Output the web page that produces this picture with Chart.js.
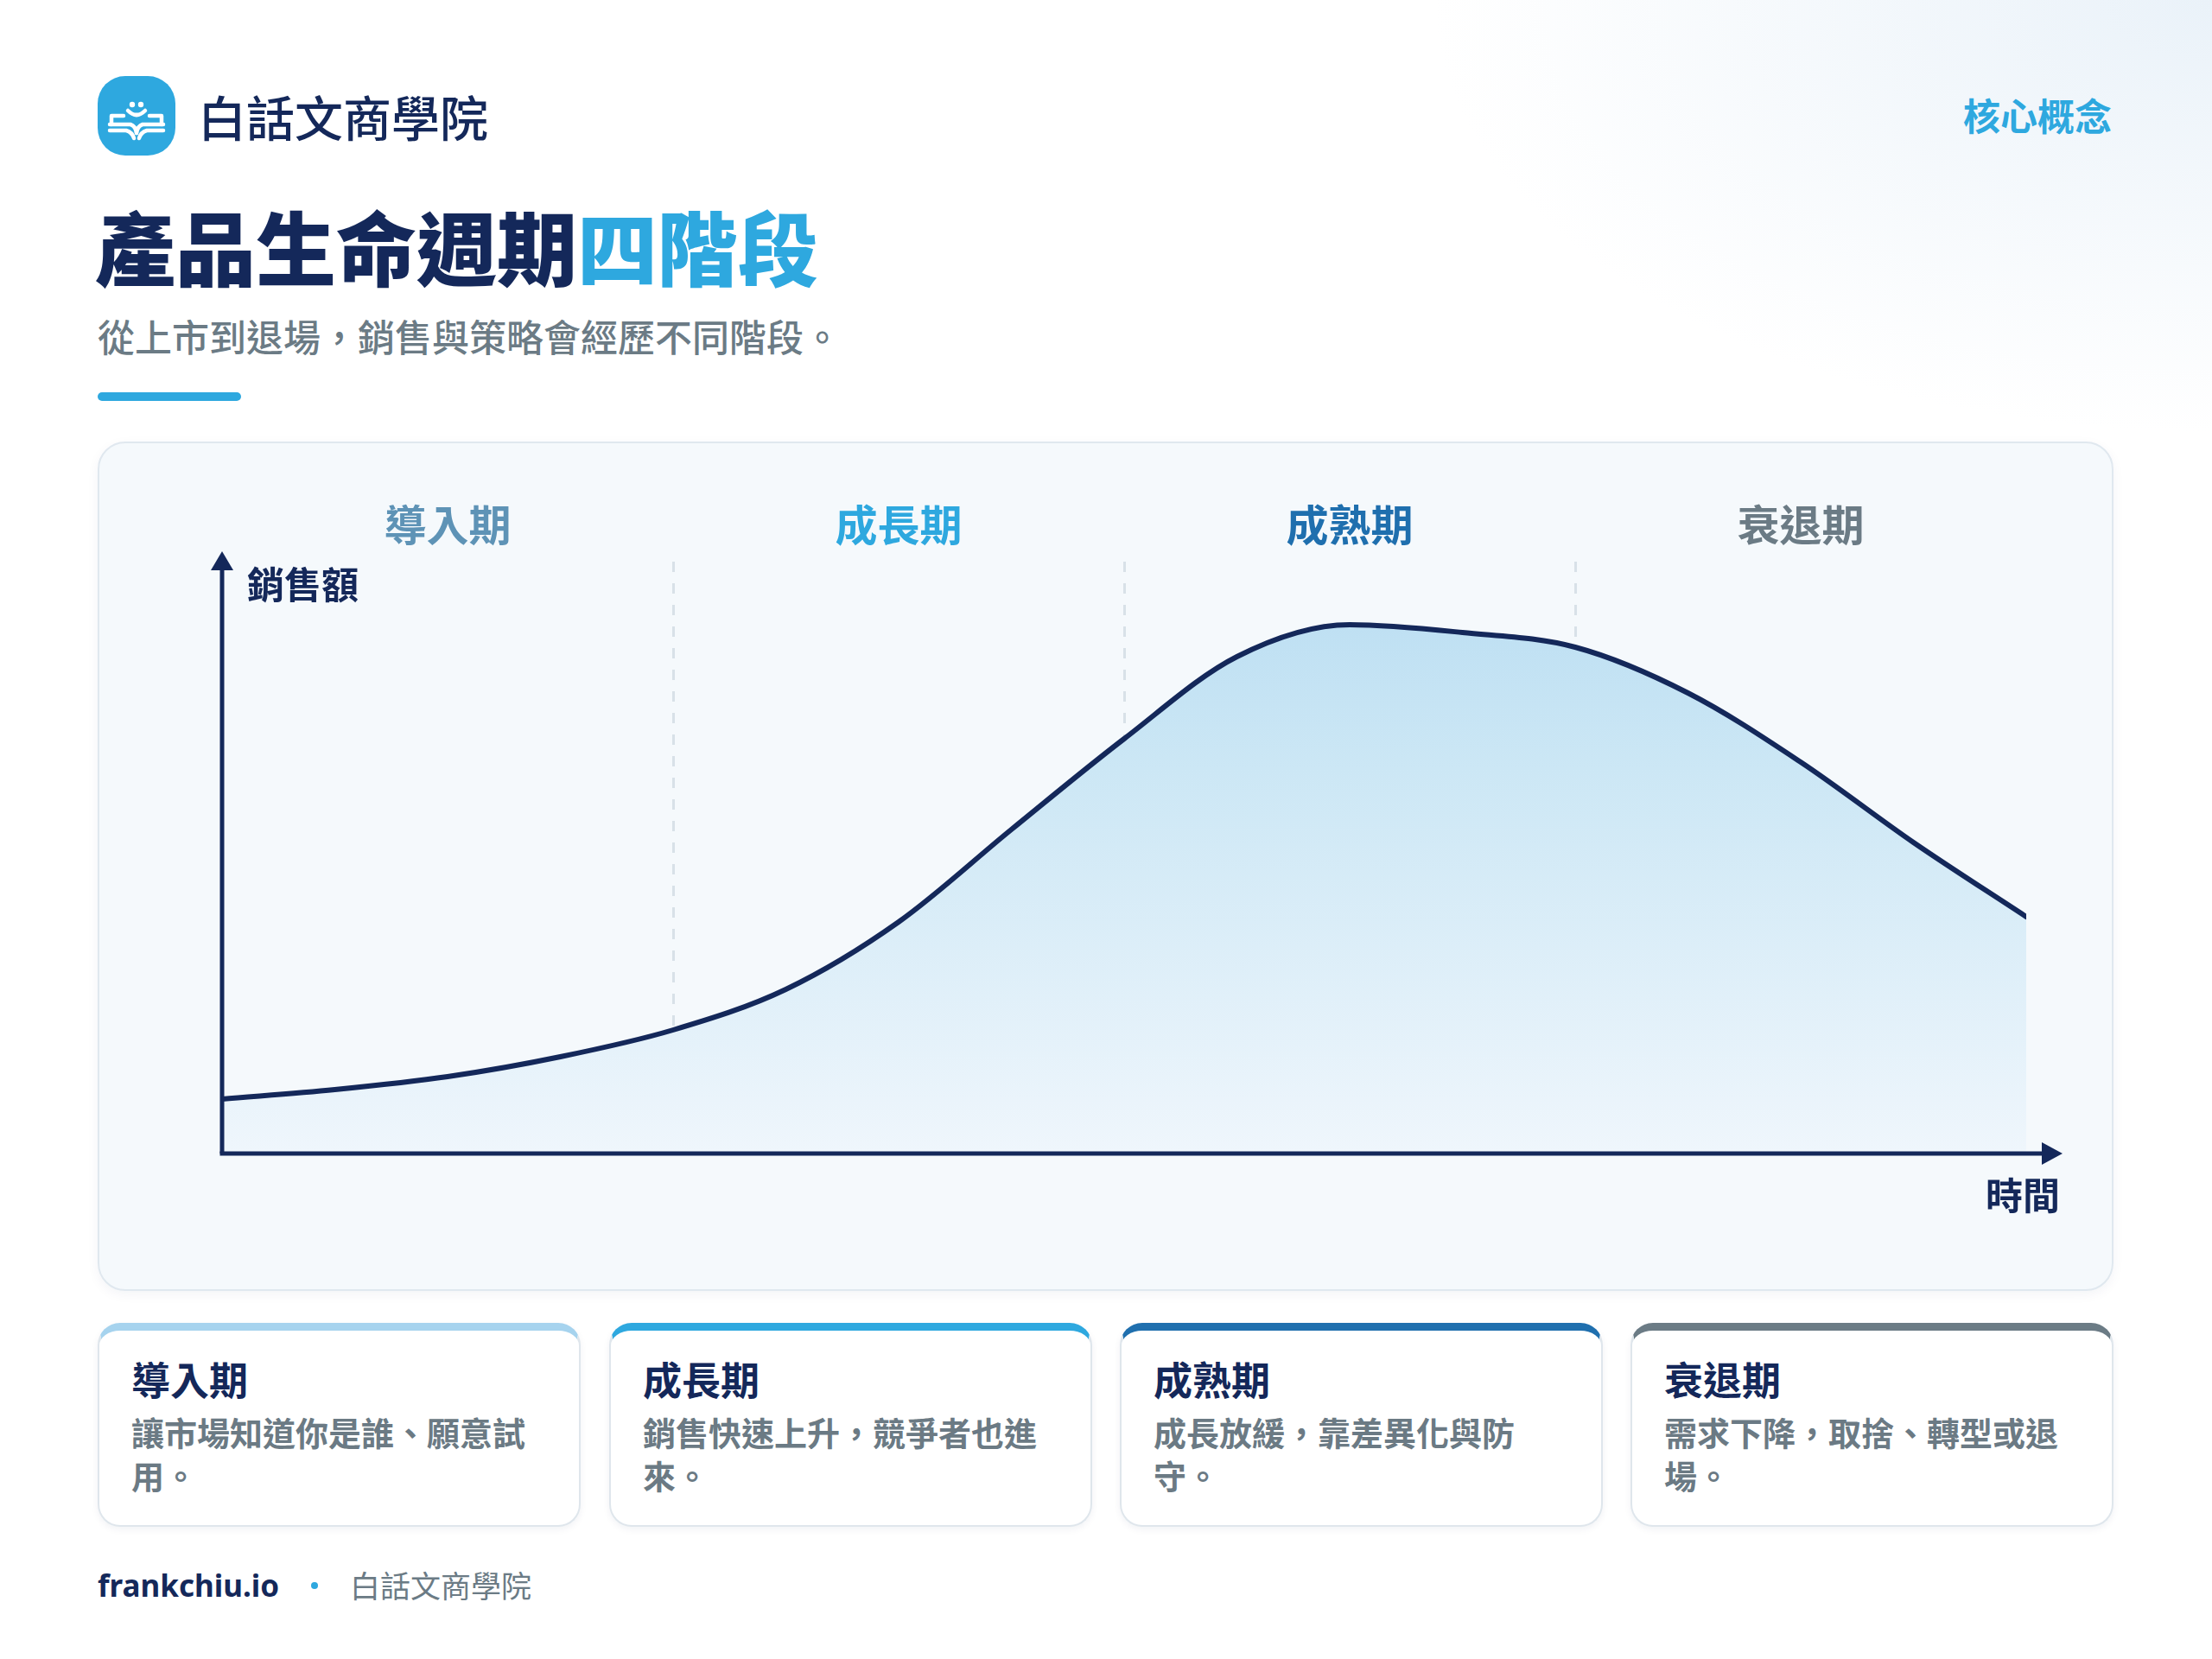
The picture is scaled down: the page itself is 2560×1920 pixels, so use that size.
<!DOCTYPE html>
<html lang="zh-Hant">
<head>
<meta charset="utf-8">
<title>產品生命週期四階段</title>
<script src="https://cdn.jsdelivr.net/npm/chart.js@4.4.1/dist/chart.umd.min.js"></script>
<style>
  html, body { margin: 0; padding: 0; }
  body {
    width: 2560px; height: 1920px; position: relative; overflow: hidden;
    font-family: "Noto Sans CJK TC", "Noto Sans CJK SC", "Noto Sans", sans-serif;
    background: radial-gradient(ellipse 900px 500px at 2560px 0px, #eaf2f9 0%, rgba(255,255,255,0) 100%), #ffffff;
    color: #14285a;
  }
  .abs { position: absolute; white-space: nowrap; }
  .logo {
    left: 113px; top: 88px; width: 90px; height: 92px;
    background: #2ea8df; border-radius: 32px;
  }
  .brand { left: 229px; top: 103px; font-size: 56px; line-height: 62px; font-weight: 500; color: #14285a; }
  .tag { right: 116px; top: 108px; font-size: 43px; line-height: 48px; font-weight: 700; color: #2ea8df; }
  .title { left: 110px; top: 232px; font-size: 93px; line-height: 103px; font-weight: 900; color: #14285a; }
  .title span { color: #2ea8df; }
  .sub { left: 113px; top: 364px; font-size: 43px; line-height: 48px; font-weight: 500; color: #6b7b85; }
  .bar { left: 113px; top: 454px; width: 166px; height: 10px; border-radius: 5px; background: #2ea8df; }
  .panel {
    left: 113px; top: 511px; width: 2333px; height: 983px; box-sizing: border-box;
    background: #f5f9fc; border: 2px solid #e0e8ef; border-radius: 32px;
    box-shadow: 0 4px 14px rgba(20, 40, 90, 0.05);
  }
  .panel canvas { position: absolute; left: -2px; top: -2px; }
  .phase { font-size: 49px; line-height: 56px; font-weight: 700; transform: translateX(-50%); }
  .axis-label { font-size: 43px; line-height: 48px; font-weight: 700; color: #14285a; }
  .card {
    top: 1531px; width: 559px; height: 236px; box-sizing: border-box;
    background: #ffffff; border: 2px solid #dfe6ec; border-top-width: 9px; border-radius: 26px;
    box-shadow: 0 3px 8px rgba(20, 40, 90, 0.06);
    padding: 29px 0 0 37px; white-space: normal;
  }
  .card h3 { margin: 0; font-size: 45px; line-height: 54px; font-weight: 700; color: #14285a; }
  .card p { margin: 9px 0 0 0; width: 480px; font-size: 38px; line-height: 50px; font-weight: 700; color: #6b7a84; }
  .foot1 { left: 113px; top: 1813px; font-family: "Noto Sans", "Open Sans", sans-serif; font-size: 35px; line-height: 44px; font-weight: 700; color: #14285a; }
  .dot { left: 360px; top: 1831px; width: 8px; height: 8px; border-radius: 50%; background: #2ea8df; }
  .foot2 { left: 405px; top: 1814px; font-size: 35px; line-height: 40px; font-weight: 400; color: #6b7b85; }
</style>
</head>
<body>
<script>
// 階段名稱
const phases = ['導入期', '成長期', '成熟期', '衰退期'];
const phaseColors = ['#5e93b6', '#2ea8df', '#1f6fae', '#6b7b85'];
const cardTopColors = ['#a6d3ee', '#2ea8df', '#1f6fae', '#6b7b85'];
const phaseNotes = [
  '讓市場知道你是誰、願意試用。',
  '銷售快速上升，競爭者也進來。',
  '成長放緩，靠差異化與防守。',
  '需求下降，取捨、轉型或退場。'
];

// 曲線資料（x：階段位置，y：銷售額）
const timePoints = [0, 0.25, 0.5, 0.75, 1, 1.25, 1.5, 1.75, 2, 2.25, 2.5, 2.75, 3, 3.25, 3.5, 3.75, 4];
const salesValues = [63, 74, 89, 112, 143, 190, 268, 375, 480, 575, 612, 603, 586, 533, 453, 360, 274];
const phaseTicks = [0, 1, 2, 3, 4];
</script>

<div class="abs logo">
  <svg width="90" height="92" viewBox="0 0 90 92">
    <g fill="none" stroke="#ffffff" stroke-width="4.5" stroke-linecap="round" stroke-linejoin="round">
      <path d="M35 40 Q45 50 55 40"/>
      <path d="M16 56 L16 46 L30 46"/>
      <path d="M74 56 L74 46 L60 46"/>
      <path d="M14 56 L38 56 Q44 58 45 66"/>
      <path d="M76 56 L52 56 Q46 58 45 66"/>
      <path d="M14 63 L33 63 Q40 65 42 72"/>
      <path d="M76 63 L57 63 Q50 65 48 72"/>
    </g>
    <circle cx="40" cy="33" r="3.2" fill="#ffffff"/>
    <circle cx="50" cy="33" r="3.2" fill="#ffffff"/>
  </svg>
</div>
<div class="abs brand">白話文商學院</div>
<div class="abs tag">核心概念</div>
<div class="abs title">產品生命週期<span>四階段</span></div>
<div class="abs sub">從上市到退場，銷售與策略會經歷不同階段。</div>
<div class="abs bar"></div>

<div class="abs panel" id="panel">
  <canvas id="plc" width="2333" height="983"></canvas>
  <div class="abs axis-label" style="left:171px; top:137px;">銷售額</div>
  <div class="abs axis-label" style="right:60px; top:844px;">時間</div>
</div>

<div id="cards"></div>

<div class="abs foot1">frankchiu.io</div>
<div class="abs dot"></div>
<div class="abs foot2">白話文商學院</div>

<script>
const NAVY = '#14285a';

// 座標軸與箭頭
const axisArrows = {
  id: 'axisArrows',
  afterDatasetsDraw(chart) {
    const { ctx, chartArea: a } = chart;
    ctx.save();
    ctx.strokeStyle = NAVY;
    ctx.fillStyle = NAVY;
    ctx.lineWidth = 5;
    ctx.beginPath();
    ctx.moveTo(a.left, a.bottom);
    ctx.lineTo(a.left, a.top + 4);
    ctx.stroke();
    ctx.beginPath();
    ctx.moveTo(a.left - 13, a.top + 10);
    ctx.lineTo(a.left, a.top - 12);
    ctx.lineTo(a.left + 13, a.top + 10);
    ctx.closePath();
    ctx.fill();
    ctx.beginPath();
    ctx.moveTo(a.left - 2.5, a.bottom);
    ctx.lineTo(a.right + 24, a.bottom);
    ctx.stroke();
    ctx.beginPath();
    ctx.moveTo(a.right + 18, a.bottom - 13);
    ctx.lineTo(a.right + 42, a.bottom);
    ctx.lineTo(a.right + 18, a.bottom + 13);
    ctx.closePath();
    ctx.fill();
    ctx.restore();
  }
};

const chart = new Chart(document.getElementById('plc'), {
  type: 'line',
  data: {
    datasets: [{
      data: timePoints.map((t, i) => ({ x: t, y: salesValues[i] })),
      borderColor: NAVY,
      borderWidth: 6,
      borderCapStyle: 'round',
      borderJoinStyle: 'round',
      pointRadius: 0,
      cubicInterpolationMode: 'monotone',
      fill: 'origin',
      backgroundColor: (c) => {
        const a = c.chart.chartArea;
        if (!a) return 'rgba(190,225,243,0.6)';
        const g = c.chart.ctx.createLinearGradient(0, a.top, 0, a.bottom);
        g.addColorStop(0, '#b9ddf2');
        g.addColorStop(0.35, '#cce7f5');
        g.addColorStop(1, '#eff6fc');
        return g;
      }
    }]
  },
  options: {
    responsive: false,
    animation: false,
    layout: { padding: { left: 144, right: 101, top: 139, bottom: 159 } },
    plugins: { legend: { display: false }, tooltip: { enabled: false } },
    scales: {
      x: {
        type: 'linear',
        min: 0,
        max: 4,
        afterBuildTicks: (s) => { s.ticks = phaseTicks.map(v => ({ value: v })); },
        ticks: { display: false },
        border: { display: false, dash: [12, 13] },
        grid: {
          drawTicks: false,
          lineWidth: 3,
          color: (c) => (c.tick && (c.tick.value === 0 || c.tick.value === 4)) ? 'rgba(0,0,0,0)' : '#d8e1e8'
        }
      },
      y: {
        min: 0,
        max: 685,
        display: false
      }
    }
  },
  plugins: [axisArrows]
});

// 階段標籤放在每段的中央
const panel = document.getElementById('panel');
const xs = chart.scales.x;
phases.forEach((name, i) => {
  const d = document.createElement('div');
  d.className = 'abs phase';
  d.textContent = name;
  d.style.left = (xs.getPixelForValue(i + 0.5) - 2) + 'px';
  d.style.top = (chart.chartArea.top - 75) + 'px';
  d.style.color = phaseColors[i];
  panel.appendChild(d);
});

// 下方說明卡片
const cardLefts = [113, 705, 1296, 1887];
const cards = document.getElementById('cards');
phases.forEach((name, i) => {
  const card = document.createElement('div');
  card.className = 'abs card';
  card.style.left = cardLefts[i] + 'px';
  card.style.borderTopColor = cardTopColors[i];
  card.innerHTML = '<h3>' + name + '</h3><p>' + phaseNotes[i] + '</p>';
  cards.appendChild(card);
});
</script>
</body>
</html>
